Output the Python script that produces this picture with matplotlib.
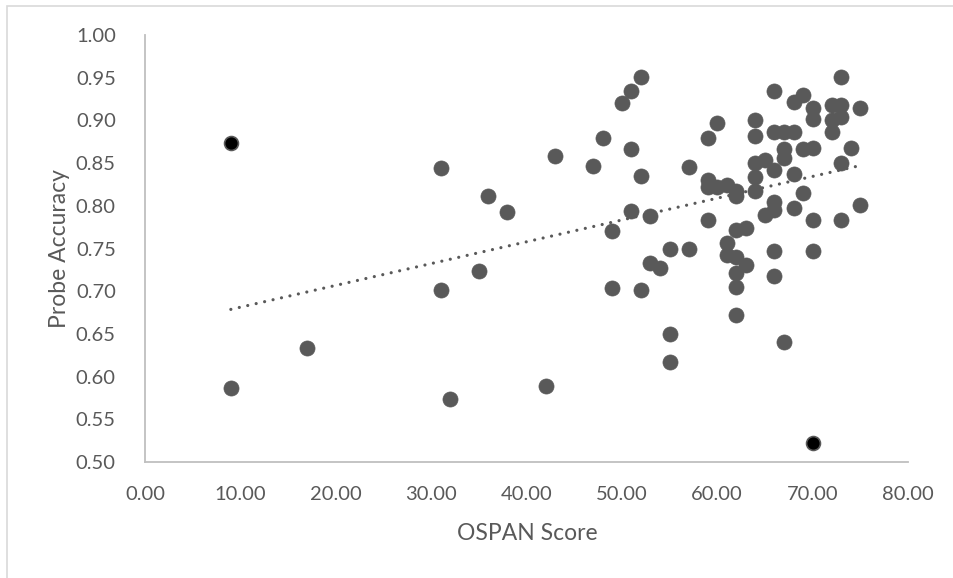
import numpy as np
import matplotlib
matplotlib.use("Agg")
import matplotlib.pyplot as plt
from matplotlib.patches import Rectangle

# OSPAN score (x) and probe accuracy (y) for each participant
ospan = [9, 17, 31, 31, 32, 35, 36, 38, 42, 43, 47, 48, 49, 49, 50, 51, 51, 51,
         52, 52, 52, 53, 53, 54, 55, 55, 55, 57, 57, 59, 59, 59, 59, 60, 60,
         61, 61, 61, 62, 62, 62, 62, 62, 62, 62, 63, 63, 64, 64, 64, 64, 64,
         65, 65, 66, 66, 66, 66, 66, 66, 66, 67, 67, 67, 67, 68, 68, 68, 68,
         69, 69, 69, 70, 70, 70, 70, 70, 72, 72, 72, 73, 73, 73, 73, 73, 74,
         75, 75]
accuracy = [0.587, 0.634, 0.844, 0.701, 0.574, 0.724, 0.811, 0.793, 0.589, 0.858,
            0.847, 0.879, 0.771, 0.704, 0.920, 0.934, 0.867, 0.794, 0.951, 0.835,
            0.701, 0.788, 0.733, 0.727, 0.749, 0.650, 0.617, 0.846, 0.749, 0.879,
            0.830, 0.822, 0.783, 0.897, 0.822, 0.824, 0.756, 0.742, 0.817, 0.811,
            0.772, 0.740, 0.721, 0.705, 0.672, 0.774, 0.731, 0.900, 0.882, 0.850,
            0.834, 0.817, 0.854, 0.789, 0.934, 0.887, 0.842, 0.805, 0.795, 0.747,
            0.718, 0.887, 0.867, 0.856, 0.640, 0.922, 0.886, 0.837, 0.797, 0.930,
            0.867, 0.815, 0.914, 0.902, 0.868, 0.783, 0.747, 0.918, 0.900, 0.886,
            0.951, 0.918, 0.904, 0.850, 0.783, 0.868, 0.915, 0.801]

# highlighted (outlier) participants
outlier_ospan = [9, 70]
outlier_accuracy = [0.874, 0.522]

x_ticks = [0, 10, 20, 30, 40, 50, 60, 70, 80]
y_ticks = [0.50, 0.55, 0.60, 0.65, 0.70, 0.75, 0.80, 0.85, 0.90, 0.95, 1.00]

TEXT = "#595959"
plt.rcParams['font.family'] = ['Lato', 'DejaVu Sans']

W, H = 954, 578
fig = plt.figure(figsize=(W / 100, H / 100), dpi=100)
fig.patch.set_facecolor("white")

# outer chart border
fig.patches.append(Rectangle((7 / W, -0.05), 1.2, 1 - 6 / H + 0.05,
                             transform=fig.transFigure, fill=False,
                             edgecolor="#D9D9D9", linewidth=1.2))

ax = fig.add_axes([145 / W, 1 - 462 / H, (908 - 145) / W, (462 - 35) / H])

ax.scatter(ospan, accuracy, s=118, color="#595959", edgecolors="#595959",
           linewidths=0.5, zorder=3)
ax.scatter(outlier_ospan, outlier_accuracy, s=100, color="black",
           edgecolors="#595959", linewidths=1.2, zorder=3)

# linear trendline (all points)
all_x = np.array(ospan + outlier_ospan, dtype=float)
all_y = np.array(accuracy + outlier_accuracy, dtype=float)
k, b = np.polyfit(all_x, all_y, 1)
tx = np.array([all_x.min(), all_x.max()])
ax.plot(tx, k * tx + b, linestyle=(0, (0.01, 2.7)), color="#595959",
        linewidth=2.3, dash_capstyle="round", zorder=4)

ax.set_xlim(0, 80)
ax.set_ylim(0.50, 1.00)
ax.set_xticks(x_ticks)
ax.set_yticks(y_ticks)
ax.set_xticklabels([f"{v:.2f}" for v in x_ticks])
ax.set_yticklabels([f"{v:.2f}" for v in y_ticks])
ax.tick_params(axis="both", length=0, labelsize=14.5, colors=TEXT)
ax.tick_params(axis="y", pad=21)
ax.tick_params(axis="x", pad=17)

for side in ["top", "right"]:
    ax.spines[side].set_visible(False)
for side in ["left", "bottom"]:
    ax.spines[side].set_color("#BFBFBF")
    ax.spines[side].set_linewidth(1.3)

fig.text(60 / W, 1 - 249 / H, "Probe Accuracy", rotation=90, ha="center",
         va="center", fontsize=16.5, color=TEXT)
fig.text(527 / W, 1 - 533 / H, "OSPAN Score", ha="center", va="center",
         fontsize=16.5, color=TEXT)

fig.savefig("out.png", dpi=100, facecolor="white")
